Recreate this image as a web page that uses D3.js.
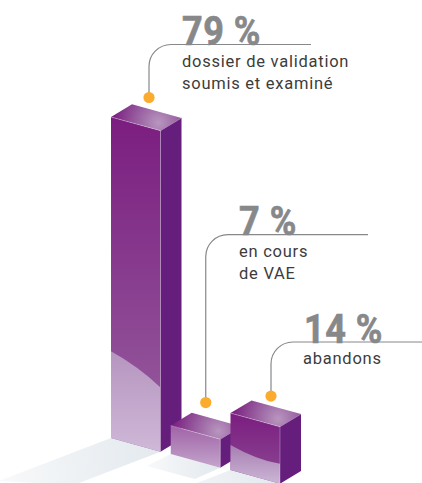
<!DOCTYPE html>
<html>
<head>
<meta charset="utf-8">
<script src="https://cdn.jsdelivr.net/npm/d3@7"></script>
<style>
  html, body { margin: 0; padding: 0; background: #fff; }
  svg { display: block; }
  text { font-family: Roboto, "Noto Sans", sans-serif; }
</style>
</head>
<body>
<div id="chart"></div>
<script>
// values
const categories = ["dossier", "vae", "abandons"];
const percents = [79, 7, 14];
const percentLabels = ["79 %", "7 %", "14 %"];
const captions = [
    ["dossier de validation", "soumis et examiné"],
    ["en cours", "de VAE"],
    ["abandons"]
];

const width = 422, height = 483;

// front-left foot of each bar sits on a diagonal floor line
const x = d3.scalePoint().domain(categories).range([111, 230.5]);
const floor = d3.scalePoint().domain(categories).range([438, 470]);
const h = d3.scaleLinear().domain([0, 79]).range([0, 321]);

// box projection
const wide = { x: 49.5, y: 13.7 }, deep = { x: 21, y: -12.7 };

// per-bar look and callout placement
const looks = [
    { top: "#7b1d80", bottom: "#97609f", low: "#b695bf", lowEnd: "#cfb8d8", reflect: [0.27, 0.2], bow: 3,
      dx: 38, dotUp: 19.5, lineY: 44.5, lineEnd: 311, textX: 182 },
    { top: "#a062a7", bottom: "#c3a5cb", dx: 35, dotUp: 23, lineY: 234.7, lineEnd: 368, textX: 239 },
    { top: "#7b1d80", bottom: "#8c4a94", low: "#a67eb1", lowEnd: "#cdb6d6", reflect: [0.44, 0.35], bow: -6,
      dx: 40.5, dotUp: 17, lineY: 342, lineEnd: 422, textX: 304 }
];

const svg = d3.select("#chart").append("svg").attr("width", width).attr("height", height);
const defs = svg.append("defs");

const poly = pts => pts.map(p => p.join(",")).join(" ");

function linear(id, x1, y1, x2, y2, stops) {
    const g = defs.append("linearGradient").attr("id", id)
        .attr("gradientUnits", "userSpaceOnUse")
        .attr("x1", x1).attr("y1", y1).attr("x2", x2).attr("y2", y2);
    stops.forEach(s => g.append("stop").attr("offset", s[0]).attr("stop-color", s[1]));
}

const bars = categories.map((c, i) => ({ c, i, value: percents[i], x0: x(c), y0: floor(c), hh: h(percents[i]), look: looks[i] }));

// floor shadows go first
const shadowG = svg.append("g");
bars.forEach(b => {
    const fl = [b.x0, b.y0], fr = [b.x0 + wide.x, b.y0 + wide.y];
    const reach = b.i === 1 ? { x: -24, y: 12 } : b.i === 0 ? { x: -112, y: 43 } : { x: -70, y: 27 };
    const tail = b.i === 1 ? [b.x0 + 24, b.y0 + 25] : [fr[0] + reach.x * 0.78, fr[1] + reach.y * 0.78];
    linear("shadow" + b.i, fr[0], fr[1], fl[0] + reach.x, fl[1] + reach.y, [[0, "#e3e9ee"], [1, "#f8f9fa"]]);
    shadowG.append("polygon")
        .attr("points", poly([fl, fr, tail, [fl[0] + reach.x, fl[1] + reach.y]]))
        .attr("fill", `url(#shadow${b.i})`);
});

// one box per category, back to front
const barG = svg.selectAll("g.bar").data(bars).enter().append("g").attr("class", "bar");

barG.each(function (b) {
    const g = d3.select(this), k = b.look;
    const tl = [b.x0, b.y0 - b.hh], tr = [b.x0 + wide.x, b.y0 - b.hh + wide.y];
    const bl = [b.x0, b.y0], br = [b.x0 + wide.x, b.y0 + wide.y];
    const sr = [tr[0] + deep.x, tr[1] + deep.y], sb = [br[0] + deep.x, br[1] + deep.y];
    const back = [tl[0] + deep.x, tl[1] + deep.y];

    linear("front" + b.i, 0, tl[1], 0, br[1], [[0, k.top], [1, k.bottom]]);
    g.append("polygon").attr("points", poly([tl, tr, br, bl])).attr("fill", `url(#front${b.i})`);

    if (k.reflect) {
        const ly = b.y0 - b.hh * k.reflect[0];
        const ry = b.y0 + wide.y - b.hh * k.reflect[1];
        linear("low" + b.i, 0, ly, 0, br[1], [[0, k.low], [1, k.lowEnd]]);
        const p = d3.path();
        p.moveTo(b.x0, ly);
        p.quadraticCurveTo(b.x0 + wide.x * 0.55, (ly + ry) / 2 - k.bow, b.x0 + wide.x, ry);
        p.lineTo(br[0], br[1]);
        p.lineTo(bl[0], bl[1]);
        p.closePath();
        g.append("path").attr("d", p.toString()).attr("fill", `url(#low${b.i})`);
    }

    g.append("polygon").attr("points", poly([tr, sr, sb, br])).attr("fill", "#651e7c");

    // top face has a soft light spot just behind the front corner
    const glow = defs.append("radialGradient").attr("id", "topFace" + b.i)
        .attr("gradientUnits", "userSpaceOnUse")
        .attr("cx", tr[0] - 2).attr("cy", tr[1] - 8).attr("r", 46);
    [[0, "#b896bf"], [0.45, "#9a62a2"], [1, "#7b1f80"]].forEach(s =>
        glow.append("stop").attr("offset", s[0]).attr("stop-color", s[1]));
    g.append("polygon").attr("points", poly([tl, back, sr, tr])).attr("fill", `url(#topFace${b.i})`);
    g.append("path").attr("d", `M${sr}L${tr}`).attr("stroke", "#a56fae").attr("stroke-width", 0.6).attr("fill", "none");

    g.append("path").attr("d", `M${tl}L${tr}L${br}`)
        .attr("fill", "none").attr("stroke", "#fff").attr("stroke-opacity", 0.4).attr("stroke-width", 0.7);
});

// callouts: dot, rounded leader, big percent, caption
const callouts = svg.append("g");
bars.forEach(b => {
    const k = b.look, dotX = b.x0 + k.dx, dotY = b.y0 - b.hh - k.dotUp, r = 22;
    const p = d3.path();
    p.moveTo(dotX, dotY);
    p.lineTo(dotX, k.lineY + r);
    p.arcTo(dotX, k.lineY, dotX + r, k.lineY, r);
    p.lineTo(k.lineEnd, k.lineY);
    callouts.append("path").attr("d", p.toString())
        .attr("fill", "none").attr("stroke", "#87888a").attr("stroke-width", 1.2);
    callouts.append("circle").attr("cx", dotX).attr("cy", dotY).attr("r", 5.6).attr("fill", "#fbab2e");

    // the original face is a narrow heavy DIN, so squeeze and thicken the numbers a little
    callouts.append("text")
        .attr("transform", `translate(${k.textX},${k.lineY + 0.5}) scale(0.9,1)`)
        .attr("font-size", 40).attr("font-weight", 700).attr("fill", "#87888a")
        .attr("stroke", "#87888a").attr("stroke-width", 0.7)
        .attr("letter-spacing", 0.6).text(percentLabels[b.i]);

    captions[b.i].forEach((line, j) => {
        callouts.append("text").attr("x", k.textX - (b.i === 2 ? 1 : 0)).attr("y", k.lineY + 22.2 + j * 22.5)
            .attr("font-size", 16.5).attr("fill", "#3c3c3b")
            .attr("letter-spacing", 0.75).text(line);
    });
});
</script>
</body>
</html>
